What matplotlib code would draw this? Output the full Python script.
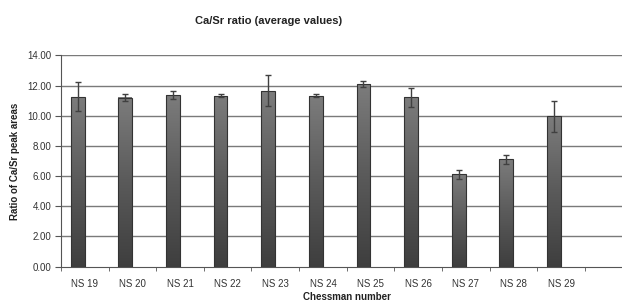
import numpy as np
import matplotlib.pyplot as plt
from matplotlib.colors import LinearSegmentedColormap

# Chessman ids and Ca/Sr averages with their error bars
chessmen = ['NS 19', 'NS 20', 'NS 21', 'NS 22', 'NS 23', 'NS 24',
            'NS 25', 'NS 26', 'NS 27', 'NS 28', 'NS 29']
ratio = [11.25, 11.2, 11.38, 11.33, 11.65, 11.33, 12.1, 11.23, 6.13, 7.1, 9.95]
ratio_err = [0.95, 0.25, 0.25, 0.1, 1.03, 0.1, 0.2, 0.63, 0.3, 0.3, 1.0]
y_ticks = [0, 2, 4, 6, 8, 10, 12, 14]

plt.rcParams['font.family'] = ['Liberation Sans', 'DejaVu Sans']

fig = plt.figure(figsize=(6.22, 3.04), dpi=100)
# axes runs slightly past the right edge, as in the original export
ax = fig.add_axes([0.098, 0.123, 0.919, 0.695])

n_slots = len(chessmen) + 1
x = np.arange(len(chessmen))
bar_w = 0.29
offset = -0.15

# grid first, bars over it
for yv in y_ticks[1:]:
    ax.axhline(yv, color='#7a7a7a', lw=1.0, zorder=1)

cmap = LinearSegmentedColormap.from_list('bar', ['#3e3e3e', '#5a5a5a', '#7c7c7c'])
grad = np.linspace(0, 1, 256).reshape(-1, 1)
bars = ax.bar(x + offset, ratio, width=bar_w, facecolor='none',
              edgecolor='#333333', lw=0.8, zorder=4)
for b in bars:
    x0, w, h = b.get_x(), b.get_width(), b.get_height()
    ax.imshow(grad, extent=[x0, x0 + w, 0, h], origin='lower', aspect='auto',
              cmap=cmap, zorder=3, interpolation='bilinear')

ax.errorbar(x + offset, ratio, yerr=ratio_err, fmt='none', ecolor='#404040',
            elinewidth=1.0, capsize=2.5, capthick=1.0, zorder=5)

ax.set_xlim(-0.5, n_slots - 0.5)
ax.set_ylim(0, 14)

ax.set_yticks(y_ticks)
ax.set_yticklabels(['%.2f' % v for v in y_ticks])
ax.set_xticks(x)
ax.set_xticklabels(chessmen)
ax.set_xticks(np.arange(n_slots + 1) - 0.5, minor=True)
ax.tick_params(axis='x', which='major', length=0, pad=9, labelsize=7, labelcolor='#333333')
ax.tick_params(axis='x', which='minor', length=3, direction='out', color='#555555')
ax.tick_params(axis='y', length=4, direction='out', pad=3, labelsize=7,
               labelcolor='#333333', color='#555555')

for s in ['top', 'right']:
    ax.spines[s].set_visible(False)
for s in ['left', 'bottom']:
    ax.spines[s].set_color('#555555')
    ax.spines[s].set_linewidth(0.8)

ax.set_xlabel('Chessman number', fontsize=7, fontweight='bold', labelpad=2, color='#222222')
ax.set_ylabel('Ratio of Ca/Sr peak areas', fontsize=7, fontweight='bold', labelpad=5, color='#222222')
fig.text(0.431, 0.93, 'Ca/Sr ratio (average values)', ha='center', va='center',
         fontsize=8, fontweight='bold', color='#222222')

fig.savefig('out.png', dpi=100)
